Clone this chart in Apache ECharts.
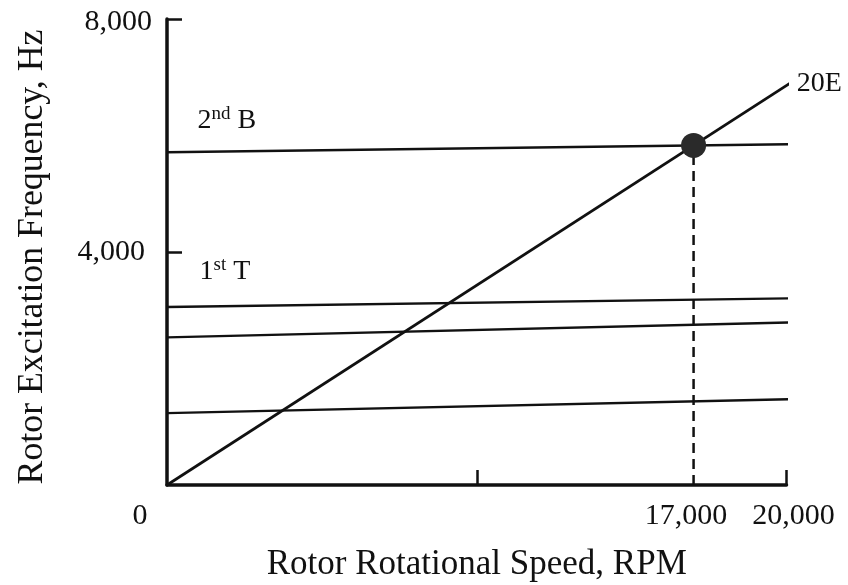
<!DOCTYPE html>
<html>
<head>
<meta charset="utf-8">
<script src="https://cdn.jsdelivr.net/npm/echarts@6/dist/echarts.min.js"></script>
<style>
  html, body { margin: 0; padding: 0; background: #fff; }
  #chart { width: 848px; height: 585px; }
</style>
</head>
<body>
<div id="chart"></div>
<script>
// Campbell diagram: rotor excitation frequency vs rotational speed
const speedRange = [0, 20150];            // RPM span of each line
const mode2ndB = [5713, 5850];            // Hz at start / end of speed range
const mode1stT = [3057, 3205];
const modeThird = [2534, 2792];
const modeFourth = [1234, 1473];
const order20E = [0, 6910];
const crossingPoint = [17000, 5830];      // 20E meets 2nd B

const xTickValues = [10000, 20000];
const xLabelValues = [0, 17000, 20000];
const xLabels = ['0', '17,000', '20,000'];
const yLabelValues = [4000, 8000];
const yLabels = ['4,000', '8,000'];

const FONT = '"Liberation Serif", "Times New Roman", serif';
const INK = '#111';
const CLEAR = 'rgba(0,0,0,0)';

function pair(ys) {
  return [[speedRange[0], ys[0]], [speedRange[1], ys[1]]];
}

function supLabel(base, sup, tail) {
  return '{n|' + base + '}{s|' + sup + '}{n|' + tail + '}';
}

const supRich = {
  n: { fontFamily: FONT, fontSize: 28, color: INK, lineHeight: 30, verticalAlign: 'bottom' },
  s: { fontFamily: FONT, fontSize: 19, color: INK, lineHeight: 18, verticalAlign: 'top' }
};

function lineSeries(ys, width) {
  return {
    type: 'line',
    data: pair(ys),
    symbol: 'none',
    clip: false,
    silent: true,
    lineStyle: { color: INK, width: width },
    z: 3
  };
}

// invisible anchor points carrying the curve names
function nameSeries(points) {
  return {
    type: 'scatter',
    data: points,
    symbol: 'circle',
    symbolSize: 1,
    clip: false,
    silent: true,
    itemStyle: { color: CLEAR, opacity: 1 },
    z: 6
  };
}

const chart = echarts.init(document.getElementById('chart'), null, { renderer: 'canvas' });

chart.setOption({
  animation: false,
  backgroundColor: '#fff',
  grid: { left: 167, right: 61.5, top: 19, bottom: 100, containLabel: false, outerBoundsMode: 'none' },
  xAxis: {
    type: 'value',
    min: 0, max: 20000,
    name: 'Rotor Rotational Speed, RPM',
    nameLocation: 'middle',
    nameGap: 62,
    nameTextStyle: { fontFamily: FONT, fontSize: 35, color: INK },
    axisLine: { show: true, onZero: false, lineStyle: { color: INK, width: 3.5 } },
    axisTick: { show: true, inside: true, length: 15, customValues: xTickValues, lineStyle: { color: INK, width: 2.5 } },
    axisLabel: {
      show: true,
      margin: 16,
      customValues: xLabelValues,
      formatter: function (v) {
        const i = xLabelValues.indexOf(v);
        return '{t' + i + '|' + xLabels[i] + '}';
      },
      rich: {
        t0: { fontFamily: FONT, fontSize: 30, color: INK, padding: [0, 54, 0, 0] },
        t1: { fontFamily: FONT, fontSize: 30, color: INK, padding: [0, 15, 0, 0] },
        t2: { fontFamily: FONT, fontSize: 30, color: INK, padding: [0, 0, 0, 14] }
      }
    },
    splitLine: { show: false }
  },
  yAxis: {
    type: 'value',
    min: 0, max: 8000, interval: 4000,
    name: 'Rotor Excitation Frequency, Hz',
    nameLocation: 'middle',
    nameGap: 116,
    nameRotate: 90,
    nameTextStyle: { fontFamily: FONT, fontSize: 35.8, color: INK, padding: [0, 10, 0, 0] },
    axisLine: { show: true, onZero: false, lineStyle: { color: INK, width: 3.5 } },
    axisTick: { show: true, inside: true, length: 15, customValues: yLabelValues, lineStyle: { color: INK, width: 2.5 } },
    axisLabel: {
      show: true,
      margin: 15,
      customValues: yLabelValues,
      formatter: function (v) {
        const i = yLabelValues.indexOf(v);
        return '{y' + i + '|' + yLabels[i] + '}';
      },
      rich: {
        y0: { fontFamily: FONT, fontSize: 30, color: INK, padding: [0, 7, 0, 0] },
        y1: { fontFamily: FONT, fontSize: 30, color: INK, padding: [6, 0, 0, 0] }
      }
    },
    splitLine: { show: false }
  },
  series: [
    lineSeries(mode2ndB, 2.4),
    lineSeries(mode1stT, 2.4),
    lineSeries(modeThird, 2.4),
    lineSeries(modeFourth, 2.4),
    lineSeries(order20E, 2.7),
    nameSeries([
      {
        value: [speedRange[0], mode2ndB[0]],
        label: { show: true, opacity: 1, position: 'right', distance: 0, offset: [30, -33],
                 formatter: supLabel('2', 'nd', ' B'), rich: supRich }
      },
      {
        value: [speedRange[0], mode1stT[0]],
        label: { show: true, opacity: 1, position: 'right', distance: 0, offset: [32, -36],
                 formatter: supLabel('1', 'st', ' T'), rich: supRich }
      },
      {
        value: [speedRange[1], order20E[1]],
        label: { show: true, opacity: 1, position: 'right', distance: 5, offset: [0, 1],
                 formatter: '20E', fontFamily: FONT, fontSize: 28, color: INK }
      }
    ]),
    {
      type: 'line',
      data: [[crossingPoint[0], 0], crossingPoint],
      symbol: 'none',
      clip: false,
      silent: true,
      lineStyle: { color: INK, width: 2.5, type: [10, 6] },
      z: 2
    },
    {
      type: 'scatter',
      data: [crossingPoint],
      symbol: 'circle',
      symbolSize: 25,
      silent: true,
      itemStyle: { color: '#2a2a2a', opacity: 1 },
      z: 5
    }
  ]
});
</script>
</body>
</html>
